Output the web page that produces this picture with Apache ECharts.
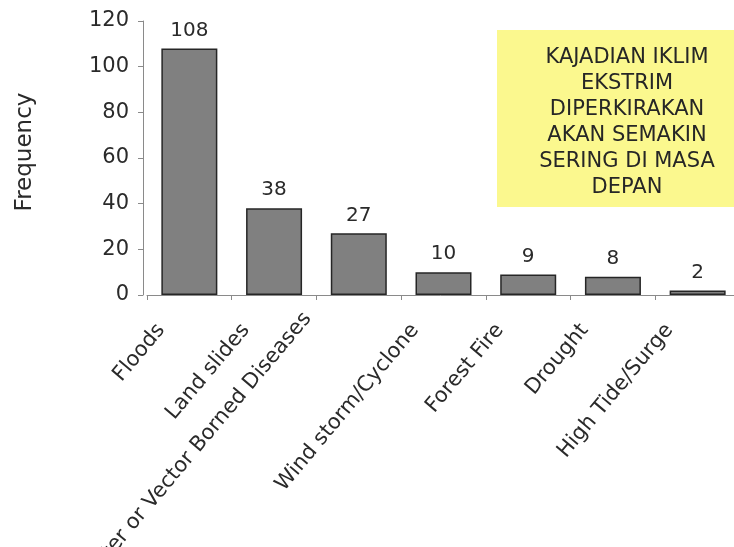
<!DOCTYPE html>
<html>
<head>
<meta charset="utf-8">
<script src="https://cdn.jsdelivr.net/npm/echarts@6/dist/echarts.min.js"></script>
<style>
  html, body { margin: 0; padding: 0; background: #ffffff; }
  #chart { width: 734px; height: 547px; }
</style>
</head>
<body>
<div id="chart"></div>
<script>
// Recorded disaster events by type
const categories = [
  'Floods',
  'Land slides',
  'Water or Vector Borned Diseases',
  'Wind storm/Cyclone',
  'Forest Fire',
  'Drought',
  'High Tide/Surge'
];
const frequencies = [108, 38, 27, 10, 9, 8, 2];

// Value axis range
const yMin = 0;
const yMax = 120;
const yStep = 20;

// Call-out note
const noteLines = [
  'KAJADIAN IKLIM',
  'EKSTRIM',
  'DIPERKIRAKAN',
  'AKAN SEMAKIN',
  'SERING DI MASA',
  'DEPAN'
];

const FONT = 'DejaVu Sans';

// The longest category name sits a little higher than the others
const LONG_LABEL = 2;
const axisData = categories.map(function (name, i) {
  if (i !== LONG_LABEL) return name;
  return {
    value: name,
    textStyle: { verticalAlign: 'bottom', lineHeight: 50, padding: [0, 50, 0, 0] }
  };
});

const chart = echarts.init(document.getElementById('chart'), null, { renderer: 'canvas' });

chart.setOption({
  animation: false,
  backgroundColor: '#ffffff',
  grid: {
    left: 147, top: 21, width: 593, height: 274,
    containLabel: false,
    outerBoundsMode: 'none'
  },
  xAxis: {
    type: 'category',
    data: axisData,
    axisLine: { lineStyle: { color: '#8a8a8a', width: 1 } },
    axisTick: { show: true, length: 5, lineStyle: { color: '#8a8a8a' } },
    axisLabel: {
      interval: 0,
      rotate: 50,
      margin: -2,
      padding: [0, 44, 0, 0],
      color: '#2a2a2a',
      fontFamily: FONT,
      fontSize: 21
    }
  },
  yAxis: {
    type: 'value',
    min: yMin,
    max: yMax,
    interval: yStep,
    offset: 4,
    name: 'Frequency',
    nameLocation: 'middle',
    nameGap: 106,
    nameTextStyle: {
      color: '#2a2a2a', fontFamily: FONT, fontSize: 23,
      padding: [0, 0, 0, 12]
    },
    splitLine: { show: false },
    axisLine: { show: true, lineStyle: { color: '#8a8a8a', width: 1 } },
    axisTick: { show: true, length: 5, lineStyle: { color: '#8a8a8a' } },
    axisLabel: { margin: 14, color: '#2a2a2a', fontFamily: FONT, fontSize: 21 }
  },
  series: [{
    type: 'bar',
    data: frequencies,
    barWidth: 56,
    itemStyle: { color: '#808080', borderColor: '#262626', borderWidth: 1.5 },
    label: {
      show: true,
      position: 'top',
      distance: 8,
      color: '#2a2a2a',
      fontFamily: FONT,
      fontSize: 20
    }
  }],
  graphic: [{
    type: 'group',
    left: 497,
    top: 30,
    children: [{
      type: 'rect',
      shape: { x: 0, y: 0, width: 270, height: 177 },
      style: { fill: '#fbf88e' }
    }, {
      type: 'text',
      x: 130,
      y: 93,
      style: {
        text: noteLines.join('\n'),
        align: 'center',
        verticalAlign: 'middle',
        lineHeight: 26,
        fill: '#262626',
        font: '21px "' + FONT + '"'
      }
    }]
  }]
});
</script>
</body>
</html>
